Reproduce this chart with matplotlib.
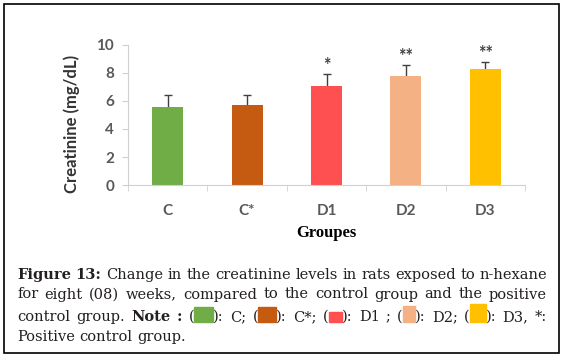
import matplotlib
matplotlib.use("Agg")
import matplotlib.pyplot as plt
from matplotlib.patches import Rectangle

# data
groups = ["C", "C*", "D1", "D2", "D3"]
creatinine = [5.6, 5.7, 7.1, 7.8, 8.3]
sem = [0.8, 0.7, 0.8, 0.8, 0.5]
stars = ["", "", "*", "**", "**"]
colors = ["#70ad47", "#c55a11", "#fe5050", "#f4b183", "#ffc000"]
yticks = [0, 2, 4, 6, 8, 10]

W, H = 565, 357
fig = plt.figure(figsize=(W / 100, H / 100), dpi=100)


def fx(x):
    return x / W


def fy(y):
    return 1 - y / H


tick_col = "#595959"
axis_col = "#d0d0d0"

ax = fig.add_axes([fx(128), fy(185), (525 - 128) / W, (185 - 45) / H])
xs = list(range(len(groups)))
ax.errorbar(xs, creatinine, yerr=sem, fmt="none", ecolor="#404040",
            elinewidth=1, capsize=3, capthick=1, zorder=1)
ax.bar(xs, creatinine, width=0.39, color=colors, zorder=2)
for i, (v, e, s) in enumerate(zip(creatinine, sem, stars)):
    if s:
        ax.annotate(s, (i, v + e), xytext=(0, 0), textcoords="offset points",
                    ha="center", va="bottom", fontsize=13, fontweight="bold",
                    color="#404040", family="Lato")

ax.set_xlim(-0.5, 4.5)
ax.set_ylim(0, 10)
ax.set_yticks(yticks)
ax.set_xticks(xs)
ax.set_xticklabels(groups)
ax.set_xticks([i - 0.5 for i in range(len(groups) + 1)], minor=True)
ax.tick_params(axis="x", which="major", length=0, pad=14)
ax.tick_params(axis="x", which="minor", length=4, color=axis_col, direction="out")
ax.tick_params(axis="y", length=4, color=axis_col, pad=6)
for lab in ax.get_xticklabels() + ax.get_yticklabels():
    lab.set_family("Lato")
    lab.set_fontsize(11)
    lab.set_fontweight("bold")
    lab.set_color(tick_col)
for sp in ["top", "right"]:
    ax.spines[sp].set_visible(False)
for sp in ["left", "bottom"]:
    ax.spines[sp].set_color(axis_col)

fig.text(fx(72), fy(124), "Creatinine (mg/dL)", rotation=90, ha="center",
         va="center", family="Lato", fontweight="bold", fontsize=12,
         color="#333333")
fig.text(fx(326), fy(233), "Groupes", ha="center", va="center",
         family="Liberation Serif", fontweight="bold", fontsize=12, color="black")

# caption, laid out word by word and justified
cap_col = "#231f20"
cap_kw = dict(family="DejaVu Serif", fontsize=10.5, color=cap_col)
renderer = fig.canvas.get_renderer()


def measure(s, bold):
    t = fig.text(0, 0, s, fontweight="bold" if bold else "normal", **cap_kw)
    w = t.get_window_extent(renderer).width
    t.remove()
    return w


def T(s, bold=False):
    return ("t", s, bold)


def Bx(col, w, h):
    return ("b", col, w, h)


def words(s):
    return [[T(w)] for w in s.split()]


line1 = [[T("Figure", True)], [T("13:", True)]] + words(
    "Change in the creatinine levels in rats exposed to n-hexane")
line2 = words("for eight (08) weeks, compared to the control group and the positive")
line3 = words("control group.") + [[T("Note", True)], [T(":", True)],
    [T("("), Bx(colors[0], 19, 15), T("):")], [T("C;")],
    [T("("), Bx(colors[1], 18, 15), T("):")], [T("C*;")],
    [T("("), Bx(colors[2], 13, 10), T("):")], [T("D1")], [T(";")],
    [T("("), Bx(colors[3], 12, 16), T("):")], [T("D2;")],
    [T("("), Bx(colors[4], 16, 18), T("):")], [T("D3,")], [T("*:")]]
line4 = words("Positive control group.")


def piece_w(p):
    return measure(p[1], p[2]) if p[0] == "t" else p[2]


def draw_line(tokens, base, justify, x0=17, x1=547):
    widths = [[piece_w(p) for p in tok] for tok in tokens]
    total = sum(sum(w) for w in widths)
    space = measure("a b", False) - measure("ab", False)
    if justify:
        gap = max((x1 - x0 - total) / (len(tokens) - 1), 0.4 * space)
    else:
        gap = space
    x = x0
    for tok, ws in zip(tokens, widths):
        for p, w in zip(tok, ws):
            if p[0] == "t":
                fig.text(fx(x), fy(base), p[1], ha="left", va="baseline",
                         fontweight="bold" if p[2] else "normal", **cap_kw)
            else:
                fig.patches.append(Rectangle((fx(x), fy(base + 1)), w / W, p[3] / H,
                                             transform=fig.transFigure,
                                             color=p[1], zorder=3))
            x += w
        x += gap


draw_line(line1, 279, True)
draw_line(line2, 298.5, True)
draw_line(line3, 321, True)
draw_line(line4, 341, False)

fig.patches.append(Rectangle((fx(4), fy(353)), (559 - 4) / W, (353 - 4) / H,
                             transform=fig.transFigure, fill=False,
                             edgecolor="black", linewidth=1.2))

fig.savefig("out.png", dpi=100)
